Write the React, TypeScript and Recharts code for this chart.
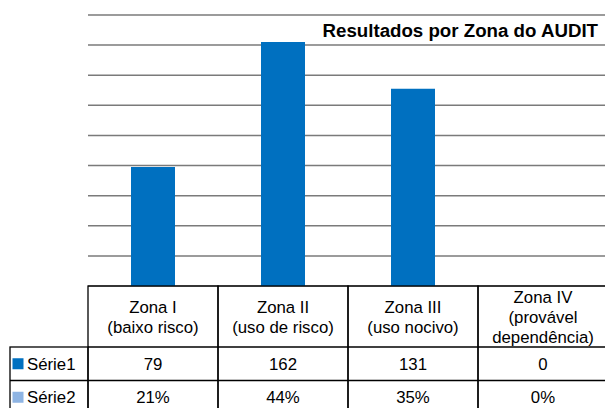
import { BarChart, Bar, XAxis, YAxis, CartesianGrid } from 'recharts';

// Category labels as they appear in the data table header (one entry per line)
const zonas = [
  ['Zona I', '(baixo risco)'],
  ['Zona II', '(uso de risco)'],
  ['Zona III', '(uso nocivo)'],
  ['Zona IV', '(provável', 'dependência)'],
];
const serie1 = [79, 162, 131, 0];
const serie2 = [21, 44, 35, 0]; // percent, shown in the table only
const seriesNames = ['Série1', 'Série2'];
const seriesColors = ['#0070C0', '#8EB4E3'];
const yTicks = [0, 20, 40, 60, 80, 100, 120, 140, 160, 180];

const data = zonas.map((z, i) => ({
  zona: z.join(' '),
  serie1: serie1[i],
  serie2: serie2[i],
}));

const FONT = "'Liberation Sans', Arial, sans-serif";
const FS = 16.8;
const CHART_W = 608;
const CHART_H = 408;
const MARGIN = { top: 15, right: 0, bottom: 0, left: 88 };
const AXIS_H = 122;
const COL_W = (CHART_W - MARGIN.left - MARGIN.right) / zonas.length;

// table rows, offsets from the axis line
const HEADER_H = 61;
const ROW_H = 33.5;
const LABEL_W = 78;

// Each x tick draws its own column of the data table
function TableTick(props: any) {
  const { x, y, payload } = props;
  const i = payload.index;
  const left = x - COL_W / 2;
  const lines = zonas[i];
  const headerMid = y + HEADER_H / 2;
  const lineGap = 20;
  const cells = [String(serie1[i]), `${serie2[i]}%`];

  return (
    <g>
      <rect
        x={left}
        y={y}
        width={COL_W}
        height={HEADER_H + ROW_H * 2}
        fill="none"
        stroke="#000"
        strokeWidth={1.3}
      />
      <line x1={left} x2={left + COL_W} y1={y + HEADER_H} y2={y + HEADER_H} stroke="#000" strokeWidth={1.3} />
      <line
        x1={left}
        x2={left + COL_W}
        y1={y + HEADER_H + ROW_H}
        y2={y + HEADER_H + ROW_H}
        stroke="#000"
        strokeWidth={1.3}
      />
      {lines.map((t, k) => (
        <text
          key={k}
          x={x}
          y={headerMid + (k - (lines.length - 1) / 2) * lineGap + 6}
          textAnchor="middle"
          fontFamily={FONT}
          fontSize={FS}
          fill="#000"
        >
          {t}
        </text>
      ))}
      {cells.map((t, k) => (
        <text
          key={k}
          x={x}
          y={y + HEADER_H + ROW_H * k + ROW_H / 2 + 6}
          textAnchor="middle"
          fontFamily={FONT}
          fontSize={FS}
          fill="#000"
        >
          {t}
        </text>
      ))}

      {/* series label column, drawn once next to the first column */}
      {i === 0 && (
        <g>
          <rect
            x={left - LABEL_W}
            y={y + HEADER_H}
            width={LABEL_W}
            height={ROW_H * 2}
            fill="none"
            stroke="#000"
            strokeWidth={1.3}
          />
          <line
            x1={left - LABEL_W}
            x2={left}
            y1={y + HEADER_H + ROW_H}
            y2={y + HEADER_H + ROW_H}
            stroke="#000"
            strokeWidth={1.3}
          />
          {seriesNames.map((name, k) => {
            const mid = y + HEADER_H + ROW_H * k + ROW_H / 2;
            return (
              <g key={name}>
                <rect x={left - LABEL_W + 2.5} y={mid - 5.5} width={11} height={11} fill={seriesColors[k]} />
                <text x={left - LABEL_W + 17} y={mid + 6} fontFamily={FONT} fontSize={FS} fill="#000">
                  {name}
                </text>
              </g>
            );
          })}
        </g>
      )}
    </g>
  );
}

export default function App() {
  return (
    <div
      style={{
        position: 'absolute',
        left: 0,
        top: 0,
        width: 605,
        height: 408,
        overflow: 'hidden',
        background: '#fff',
      }}
    >
      <BarChart width={CHART_W} height={CHART_H} data={data} margin={MARGIN}>
        <CartesianGrid vertical={false} stroke="#7a7a7a" strokeWidth={1.5} />
        <XAxis
          dataKey="zona"
          height={AXIS_H}
          interval={0}
          axisLine={false}
          tickLine={false}
          tickSize={0}
          tickMargin={0}
          tick={<TableTick />}
        />
        <YAxis hide domain={[0, 180]} ticks={yTicks} />
        <Bar dataKey="serie1" fill={seriesColors[0]} barSize={44} isAnimationActive={false} />
      </BarChart>
      <div
        style={{
          position: 'absolute',
          right: 7,
          top: 22,
          fontFamily: FONT,
          fontWeight: 700,
          fontSize: 18.7,
          lineHeight: '18.7px',
          color: '#000',
          whiteSpace: 'nowrap',
        }}
      >
        Resultados por Zona do AUDIT
      </div>
    </div>
  );
}
